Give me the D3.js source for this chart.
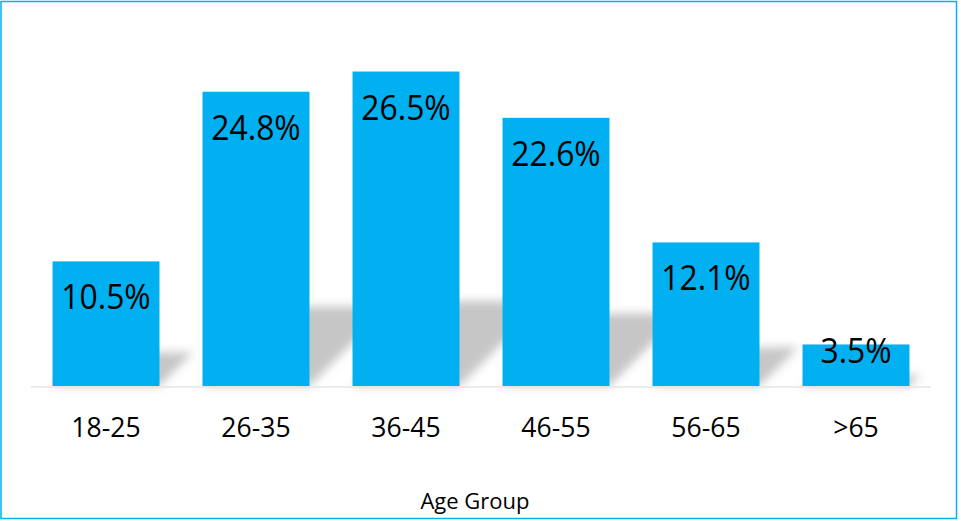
<!DOCTYPE html>
<html>
<head>
<meta charset="utf-8">
<script src="https://cdn.jsdelivr.net/npm/d3@7"></script>
<style>
  html, body { margin: 0; padding: 0; background: #fff; }
  svg { display: block; font-family: "Open Sans", sans-serif; }
</style>
</head>
<body>
<div id="chart"></div>
<script>
const categories = ["18-25", "26-35", "36-45", "46-55", "56-65", ">65"];
const values = [10.5, 24.8, 26.5, 22.6, 12.1, 3.5];
const valueLabels = ["10.5%", "24.8%", "26.5%", "22.6%", "12.1%", "3.5%"];
const axisTitle = "Age Group";

const W = 961, H = 521;
const svg = d3.select("#chart").append("svg").attr("width", W).attr("height", H);

const defs = svg.append("defs");
defs.append("filter").attr("id", "blur").attr("x", "-50%").attr("y", "-50%").attr("width", "200%").attr("height", "200%")
  .append("feGaussianBlur").attr("stdDeviation", 5);

const x = d3.scaleBand().domain(categories).range([31, 931]).paddingInner(0.287).paddingOuter(0.1435);
const y = d3.scaleLinear().domain([0, 30]).range([386, 30]);

// border
svg.append("rect").attr("x", 1).attr("y", 1.5).attr("width", 955.5).attr("height", 517)
  .attr("fill", "none").attr("stroke", "#00B0F0").attr("stroke-width", 1.5);

const data = categories.map((c, i) => ({ c, v: values[i], label: valueLabels[i] }));

// shadows
const base = y(0);
svg.append("g").attr("filter", "url(#blur)").selectAll("path").data(data).join("path")
  .attr("fill", "#c6c6c6")
  .attr("d", d => {
    const x0 = x(d.c), x1 = x0 + x.bandwidth();
    const dd = (base - y(d.v)) * 0.27;
    return `M${x0},${base}L${x1},${base}L${x1 + dd},${base - dd}L${x0 + dd},${base - dd}Z`;
  });

// axis line
svg.append("line").attr("x1", 31).attr("x2", 931).attr("y1", base + 1).attr("y2", base + 1)
  .attr("stroke", "#e6e6e6").attr("stroke-width", 1.5);

// bars
svg.append("g").selectAll("rect").data(data).join("rect")
  .attr("x", d => x(d.c)).attr("y", d => y(d.v))
  .attr("width", x.bandwidth()).attr("height", d => base - y(d.v))
  .attr("fill", "#00B0F0");

// value labels
svg.append("g").selectAll("text").data(data).join("text")
  .attr("transform", d => `translate(${x(d.c) + x.bandwidth() / 2},${Math.min(y(d.v) + 48, base - 23)}) scale(0.91,1)`)
  .attr("text-anchor", "middle").attr("font-size", 35).attr("fill", "#000")
  .text(d => d.label);

// x axis labels
const xAxis = d3.axisBottom(x).tickSize(0).tickPadding(0);
const gx = svg.append("g").attr("transform", `translate(0,${base})`).call(xAxis);
gx.select(".domain").remove();
gx.selectAll("text")
  .attr("y", 0).attr("dy", null)
  .attr("transform", "translate(0,51) scale(0.95,1)")
  .attr("font-family", "Open Sans, sans-serif").attr("font-size", 28).attr("fill", "#000");

// axis title
svg.append("text").attr("x", 475).attr("y", 509).attr("text-anchor", "middle")
  .attr("font-size", 22).attr("fill", "#000").text(axisTitle);
</script>
</body>
</html>
